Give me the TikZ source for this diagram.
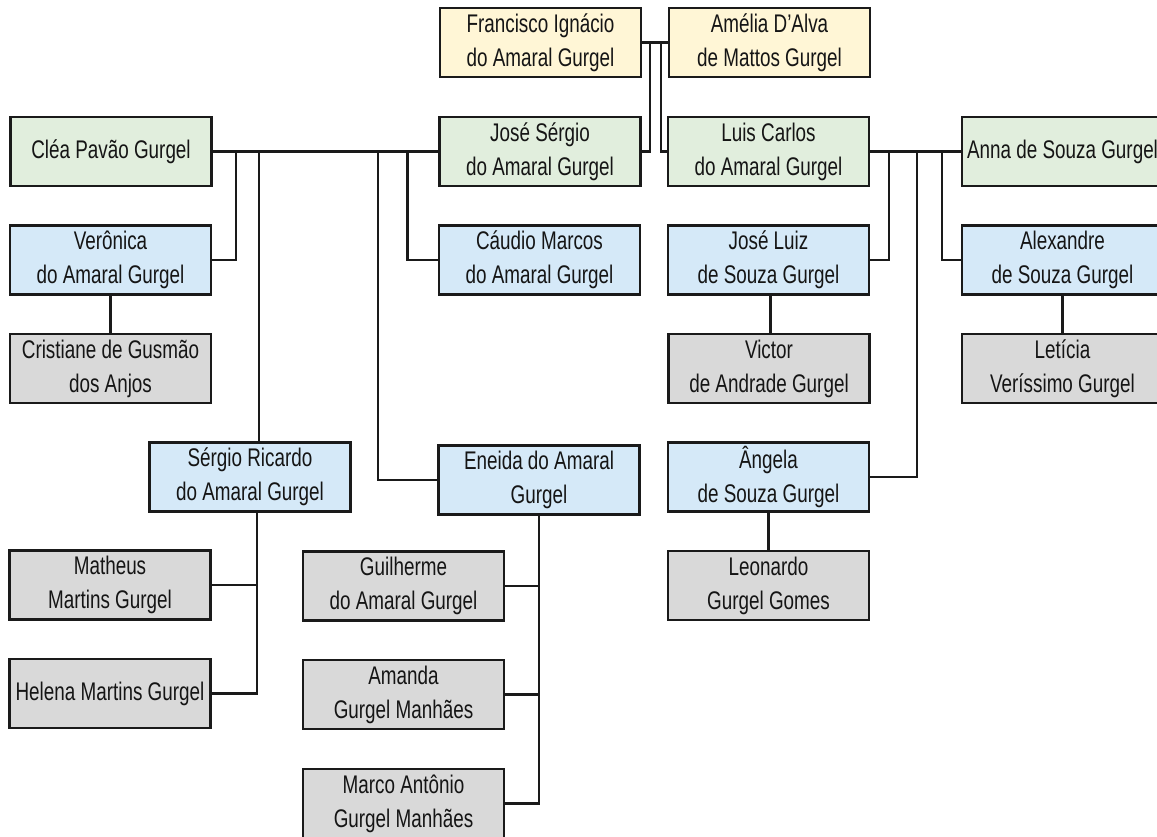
\documentclass[tikz,border=0pt]{standalone}
\usepackage{fontspec}
\setmainfont[FakeStretch=0.74]{Liberation Sans}
\usepackage{tikz}
\usetikzlibrary{positioning}
\usepackage{xcolor}
\definecolor{linha}{HTML}{1A1A1A}
\definecolor{texto}{HTML}{151515}
\definecolor{avos}{HTML}{FFF6D6}
\definecolor{pais}{HTML}{E1EEDD}
\definecolor{filhos}{HTML}{D5E9F8}
\definecolor{netos}{HTML}{D9D9D9}

\begin{document}
\begin{tikzpicture}[x=1pt,y=-1pt,
    pessoa/.style={draw=linha, line width=2.1pt, minimum width=201pt, minimum height=69pt,
      inner sep=2pt, align=center, text=texto, font=\fontsize{25.5}{34}\selectfont},
    avo/.style={pessoa, fill=avos},
    pai/.style={pessoa, fill=pais},
    filho/.style={pessoa, fill=filhos},
    neto/.style={pessoa, fill=netos},
    elo/.style={draw=linha, line width=2.1pt}]
  \useasboundingbox (0,0) rectangle (1157,836);

  \node[avo] (francisco) at (540.5,42.5) {Francisco Ignácio\\do Amaral Gurgel};
  \node[avo] (amelia)    at (769.5,42.5) {Amélia D’Alva\\de Mattos Gurgel};

  \node[pai] (clea)       at (111,151.5)    {Cléa Pavão Gurgel};
  \node[pai] (josesergio) at (540,151.5)    {José Sérgio\\do Amaral Gurgel};
  \node[pai] (luiscarlos) at (768.5,151.5)  {Luis Carlos\\do Amaral Gurgel};
  \node[pai] (anna)       at (1062.5,151.5) {Anna de Souza Gurgel};

  \node[filho] (veronica)  at (110.5,260)  {Verônica\\do Amaral Gurgel};
  \node[filho] (caudio)    at (539.5,260)  {Cáudio Marcos\\do Amaral Gurgel};
  \node[filho] (joseluiz)  at (768.5,260)  {José Luiz\\de Souza Gurgel};
  \node[filho] (alexandre) at (1062.5,260) {Alexandre\\de Souza Gurgel};

  \node[neto] (cristiane) at (110.5,368.5)  {Cristiane de Gusmão\\dos Anjos};
  \node[neto] (victor)    at (769,368.5)    {Victor\\de Andrade Gurgel};
  \node[neto] (leticia)   at (1062.5,368.5) {Letícia\\Veríssimo Gurgel};

  \node[filho] (sergio) at (250,477)   {Sérgio Ricardo\\do Amaral Gurgel};
  \node[filho] (eneida) at (539,480)   {Eneida do Amaral\\Gurgel};
  \node[filho] (angela) at (768.5,477) {Ângela\\de Souza Gurgel};

  \node[neto] (matheus)   at (110,585)     {Matheus\\Martins Gurgel};
  \node[neto] (helena)    at (110,693.5)   {Helena Martins Gurgel};
  \node[neto] (guilherme) at (403.5,586)   {Guilherme\\do Amaral Gurgel};
  \node[neto] (amanda)    at (403.5,694.5) {Amanda\\Gurgel Manhães};
  \node[neto] (marco)     at (403.5,803.5) {Marco Antônio\\Gurgel Manhães};
  \node[neto] (leonardo)  at (768.5,585.5) {Leonardo\\Gurgel Gomes};

  \draw[elo] (francisco.east) -- (amelia.west);
  \draw[elo] ([xshift=8pt]francisco.east) |- (josesergio.east);
  \draw[elo] ([xshift=19pt]francisco.east) |- (luiscarlos.west);

  \draw[elo] (clea.east) -- (josesergio.west);
  \draw[elo] ([xshift=23pt]clea.east) |- (veronica.east);
  \draw[elo] ([xshift=46pt]clea.east) -- ([xshift=46pt]clea.east |- sergio.north);
  \draw[elo] ([xshift=165pt]clea.east) |- (eneida.west);
  \draw[elo] ([xshift=-31pt]josesergio.west) |- (caudio.west);

  \draw[elo] (luiscarlos.east) -- (anna.west);
  \draw[elo] ([xshift=19pt]luiscarlos.east) |- (joseluiz.east);
  \draw[elo] ([xshift=47pt]luiscarlos.east) |- (angela.east);
  \draw[elo] ([xshift=-19pt]anna.west) |- (alexandre.west);

  \draw[elo] (veronica) -- (cristiane);
  \draw[elo] ([xshift=2pt]joseluiz.south) -- ([xshift=2pt]joseluiz.south |- victor.north);
  \draw[elo] (alexandre) -- (leticia);
  \draw[elo] (angela) -- (leonardo);

  \draw[elo] (matheus.east) -| ([xshift=7pt]sergio.south);
  \draw[elo] (helena.east) -| ([xshift=7pt]sergio.south);

  \draw[elo] (guilherme.east) -| (eneida.south);
  \draw[elo] (amanda.east) -| (eneida.south);
  \draw[elo] (marco.east) -| (eneida.south);
\end{tikzpicture}
\end{document}
